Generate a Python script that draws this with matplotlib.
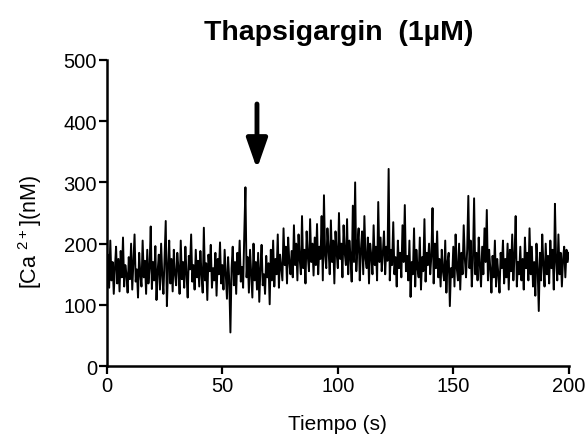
import matplotlib
matplotlib.use('Agg')
import matplotlib.pyplot as plt
import numpy as np

plt.rcParams['font.family'] = ['Liberation Sans', 'DejaVu Sans']
plt.rcParams['mathtext.default'] = 'regular'

# Data: cytosolic Ca2+ trace, one sample every 0.5 s
sample_interval = 0.5
ca = [
    150, 182, 128, 205, 140, 170, 118, 160, 195, 135, 175, 122, 188, 145, 210, 130, 165, 150, 120, 178,
    142, 200, 125, 168, 215, 138, 158, 112, 185, 150, 130, 205, 145, 172, 118, 190, 135, 160, 228, 126,
    170, 140, 196, 108, 155, 182, 125, 200, 148, 118, 178, 237, 98, 160, 205, 135, 175, 122, 190, 150,
    132, 185, 160, 118, 205, 142, 170, 128, 195, 150, 112, 180, 158, 215, 138, 165, 125, 190, 145, 172,
    130, 188, 150, 120, 226, 140, 168, 108, 182, 155, 198, 128, 160, 140, 185, 115, 175, 150, 202, 135,
    165, 125, 190, 148, 110, 178, 140, 55, 160, 195, 132, 170, 118, 185, 150, 205, 138, 162, 128, 215,
    292, 145, 178, 120, 190, 152, 112, 200, 140, 170, 125, 185, 105, 160, 198, 132, 150, 118, 180, 145,
    168, 101, 190, 140, 205, 130, 175, 150, 215, 128, 182, 160, 140, 225, 165, 195, 135, 210, 170, 150,
    188, 145, 230, 165, 200, 140, 215, 175, 150, 245, 160, 190, 135, 220, 180, 155, 240, 170, 200, 148,
    210, 165, 232, 150, 195, 175, 245, 140, 279, 180, 160, 225, 190, 150, 238, 170, 205, 135, 220, 185,
    160, 250, 175, 200, 145, 230, 185, 165, 240, 150, 205, 178, 138, 262, 170, 300, 155, 195, 225, 140,
    190, 220, 150, 245, 175, 160, 210, 135, 200, 180, 150, 230, 165, 195, 140, 268, 170, 210, 155, 185,
    220, 150, 195, 172, 322, 140, 190, 165, 235, 150, 178, 130, 205, 160, 185, 145, 230, 170, 263, 155,
    180, 140, 205, 113, 170, 150, 225, 130, 190, 160, 145, 210, 125, 178, 155, 240, 138, 185, 165, 200,
    150, 180, 258, 135, 200, 160, 220, 145, 175, 130, 190, 155, 140, 205, 120, 170, 185, 98, 160, 145,
    195, 130, 215, 160, 140, 200, 125, 185, 150, 230, 175, 145, 190, 278, 160, 205, 130, 175, 274, 150,
    185, 140, 210, 165, 130, 195, 150, 225, 170, 255, 140, 190, 160, 120, 180, 145, 205, 130, 175, 150,
    120, 185, 160, 205, 135, 175, 145, 200, 125, 190, 155, 215, 140, 180, 245, 130, 170, 150, 195, 140,
    175, 125, 210, 160, 185, 140, 225, 150, 195, 130, 170, 115, 200, 160, 90, 185, 140, 215, 165, 130,
    200, 150, 180, 135, 205, 160, 190, 125, 265, 170, 140, 215, 150, 185, 130, 175, 195, 145, 190, 170,
    185,
]
time = np.arange(len(ca)) * sample_interval

x_ticks = [0, 50, 100, 150, 200]
y_ticks = [0, 100, 200, 300, 400, 500]
arrow_time = 65  # addition of thapsigargin

fig = plt.figure(figsize=(5.87, 4.35), dpi=100)
ax = fig.add_axes([0.182, 0.156, 0.787, 0.704])

ax.plot(time, ca, color='black', linewidth=1.4)

ax.set_xlim(0, 200)
ax.set_ylim(0, 500)
ax.set_xticks(x_ticks)
ax.set_yticks(y_ticks)
ax.tick_params(direction='out', length=6, width=1.6, labelsize=14.5, pad=1)

for side in ['top', 'right']:
    ax.spines[side].set_visible(False)
for side in ['left', 'bottom']:
    ax.spines[side].set_linewidth(1.8)

# arrow marking the moment of addition
ax.annotate('', xy=(arrow_time, 322), xytext=(arrow_time, 428),
            arrowprops=dict(arrowstyle='-|>,head_length=1.0,head_width=0.35',
                            lw=3.5, color='black', mutation_scale=18,
                            shrinkA=0, shrinkB=0))

ax.set_xlabel('Tiempo (s)', fontsize=15, labelpad=14)
fig.text(30 / 587, 1 - 232 / 435, '[Ca $^{2+}$](nM)', rotation=90,
         ha='center', va='center', fontsize=15.5)
fig.text(339 / 587, 1 - 33 / 435, 'Thapsigargin  (1µM)', ha='center', va='center',
         fontsize=20.5, fontweight='bold')

plt.savefig('out.png', dpi=100)
